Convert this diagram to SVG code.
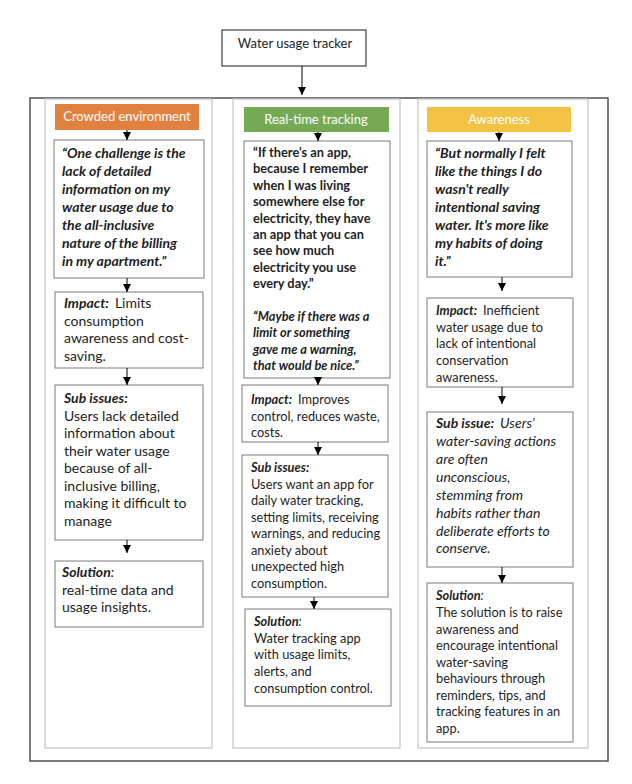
<svg xmlns="http://www.w3.org/2000/svg" width="632" height="784" viewBox="0 0 632 784">
<defs>
<marker id="ah" markerUnits="userSpaceOnUse" markerWidth="8" markerHeight="8" viewBox="0 0 8 8" refX="8" refY="4" orient="auto">
<path d="M0,0 L8,4 L0,8 z" fill="#000"/>
</marker>
<style>
.t{font-family:Lato,'Liberation Sans',sans-serif;fill:#1e1e1e}
.a{font-size:14px}
.b{font-size:12.8px}
.bi{font-weight:bold;font-style:italic}
.bo{font-weight:bold}
.it{font-style:italic}
.box{fill:#fff;stroke:#7a7a7a;stroke-width:1}
.col{fill:none;stroke:#c4c4c4;stroke-width:1.2}
.hd{font-family:Lato,'Liberation Sans',sans-serif;font-size:13px;fill:#fff;text-anchor:middle}
.cn{stroke:#000;stroke-width:1;fill:none;marker-end:url(#ah)}
</style>
</defs>
<rect width="632" height="784" fill="#fff"/>

<g id="title">
<rect x="222" y="30" width="144" height="36" fill="#fff" stroke="#404040" stroke-width="1.2"/>
<text x="295" y="48" class="t" font-size="13" text-anchor="middle">Water usage tracker</text>
</g>

<g id="container">
<rect x="30" y="98" width="578" height="663" fill="none" stroke="#505050" stroke-width="1.5"/>
<rect x="45" y="99" width="167" height="649" class="col"/>
<rect x="233" y="99" width="167" height="649" class="col"/>
<rect x="418" y="99" width="170" height="649" class="col"/>
</g>

<g id="h1"><rect x="55" y="104" width="144" height="26" fill="#E2813F"/><text x="127" y="121" class="hd">Crowded environment</text></g>
<g id="h2"><rect x="244" y="107" width="145" height="25" fill="#76A953"/><text x="316" y="124" class="hd">Real-time tracking</text></g>
<g id="h3"><rect x="427" y="107" width="144" height="25" fill="#F3C243"/><text x="499" y="124" class="hd">Awareness</text></g>

<g id="c1-quote">
<rect x="54" y="140" width="150" height="138" class="box"/>
<text class="t a bi">
<tspan x="62" y="158">“One challenge is the</tspan>
<tspan x="62" y="176">lack of detailed</tspan>
<tspan x="62" y="194">information on my</tspan>
<tspan x="62" y="212">water usage due to</tspan>
<tspan x="62" y="230">the all-inclusive</tspan>
<tspan x="62" y="248">nature of the billing</tspan>
<tspan x="62" y="266">in my apartment.”</tspan>
</text>
</g>

<g id="c1-impact">
<rect x="55" y="292" width="148" height="76" class="box"/>
<text class="t a">
<tspan x="64" y="308"><tspan class="bi">Impact:</tspan><tspan dx="6">Limits</tspan></tspan>
<tspan x="64" y="326">consumption</tspan>
<tspan x="64" y="343">awareness and cost-</tspan>
<tspan x="64" y="361">saving.</tspan>
</text>
</g>

<g id="c1-sub">
<rect x="55" y="385" width="148" height="155" class="box"/>
<text class="t a">
<tspan x="64" y="403" class="bi">Sub issues:</tspan>
<tspan x="64" y="421">Users lack detailed</tspan>
<tspan x="64" y="438">information about</tspan>
<tspan x="64" y="456">their water usage</tspan>
<tspan x="64" y="473">because of all-</tspan>
<tspan x="64" y="491">inclusive billing,</tspan>
<tspan x="64" y="508">making it difficult to</tspan>
<tspan x="64" y="526">manage</tspan>
</text>
</g>

<g id="c1-solution">
<rect x="55" y="561" width="148" height="66" class="box"/>
<text class="t a">
<tspan x="62" y="577"><tspan class="bi">Solution</tspan><tspan class="it">:</tspan></tspan>
<tspan x="62" y="595">real-time data and</tspan>
<tspan x="62" y="612">usage insights.</tspan>
</text>
</g>

<g id="c2-quote">
<rect x="244" y="141" width="146" height="237" class="box"/>
<text class="t b bo">
<tspan x="253" y="157">“If there's an app,</tspan>
<tspan x="253" y="173.4">because I remember</tspan>
<tspan x="253" y="189.8">when I was living</tspan>
<tspan x="253" y="206.2">somewhere else for</tspan>
<tspan x="253" y="222.6">electricity, they have</tspan>
<tspan x="253" y="239">an app that you can</tspan>
<tspan x="253" y="255.4">see how much</tspan>
<tspan x="253" y="271.8">electricity you use</tspan>
<tspan x="253" y="288.2">every day.”</tspan>
</text>
<text class="t b bi">
<tspan x="253" y="321">“Maybe if there was a</tspan>
<tspan x="253" y="337.4">limit or something</tspan>
<tspan x="253" y="353.8">gave me a warning,</tspan>
<tspan x="253" y="370.2">that would be nice.”</tspan>
</text>
</g>

<g id="c2-impact">
<rect x="242" y="385" width="146" height="57" class="box"/>
<text class="t b">
<tspan x="251" y="404"><tspan class="bi">Impact:</tspan><tspan dx="6">Improves</tspan></tspan>
<tspan x="251" y="420.5">control, reduces waste,</tspan>
<tspan x="251" y="437">costs.</tspan>
</text>
</g>

<g id="c2-sub">
<rect x="242" y="455" width="146" height="142" class="box"/>
<text class="t b">
<tspan x="251" y="472" class="bi">Sub issues:</tspan>
<tspan x="251" y="488.5">Users want an app for</tspan>
<tspan x="251" y="505">daily water tracking,</tspan>
<tspan x="251" y="521.5">setting limits, receiving</tspan>
<tspan x="251" y="538">warnings, and reducing</tspan>
<tspan x="251" y="554.5">anxiety about</tspan>
<tspan x="251" y="571">unexpected high</tspan>
<tspan x="251" y="587.5">consumption.</tspan>
</text>
</g>

<g id="c2-solution">
<rect x="245" y="609" width="146" height="97" class="box"/>
<text class="t b">
<tspan x="254" y="626"><tspan class="bi">Solution</tspan><tspan class="it">:</tspan></tspan>
<tspan x="254" y="642.7">Water tracking app</tspan>
<tspan x="254" y="659.4">with usage limits,</tspan>
<tspan x="254" y="676.1">alerts, and</tspan>
<tspan x="254" y="692.8">consumption control.</tspan>
</text>
</g>

<g id="c3-quote">
<rect x="427" y="141" width="145" height="136" class="box"/>
<text class="t a bi">
<tspan x="435" y="158">“But normally I felt</tspan>
<tspan x="435" y="176">like the things I do</tspan>
<tspan x="435" y="194">wasn't really</tspan>
<tspan x="435" y="212">intentional saving</tspan>
<tspan x="435" y="230">water. It's more like</tspan>
<tspan x="435" y="248">my habits of doing</tspan>
<tspan x="435" y="266">it.”</tspan>
</text>
</g>

<g id="c3-impact">
<rect x="427" y="298" width="146" height="89" class="box"/>
<text class="t b">
<tspan x="436" y="315"><tspan class="bi">Impact:</tspan><tspan dx="6">Inefficient</tspan></tspan>
<tspan x="436" y="331.7">water usage due to</tspan>
<tspan x="436" y="348.4">lack of intentional</tspan>
<tspan x="436" y="365.1">conservation</tspan>
<tspan x="436" y="381.8">awareness.</tspan>
</text>
</g>

<g id="c3-sub">
<rect x="427" y="412" width="146" height="155" class="box"/>
<text class="t a it">
<tspan x="436" y="428"><tspan class="bi">Sub issue:</tspan><tspan dx="6">Users’</tspan></tspan>
<tspan x="436" y="446">water-saving actions</tspan>
<tspan x="436" y="464">are often</tspan>
<tspan x="436" y="482">unconscious,</tspan>
<tspan x="436" y="500">stemming from</tspan>
<tspan x="436" y="518">habits rather than</tspan>
<tspan x="436" y="536">deliberate efforts to</tspan>
<tspan x="436" y="553">conserve.</tspan>
</text>
</g>

<g id="c3-solution">
<rect x="427" y="583" width="146" height="159" class="box"/>
<text class="t b">
<tspan x="436" y="600"><tspan class="bi">Solution</tspan><tspan class="it">:</tspan></tspan>
<tspan x="436" y="617">The solution is to raise</tspan>
<tspan x="436" y="633.5">awareness and</tspan>
<tspan x="436" y="650">encourage intentional</tspan>
<tspan x="436" y="666.5">water-saving</tspan>
<tspan x="436" y="683">behaviours through</tspan>
<tspan x="436" y="699.5">reminders, tips, and</tspan>
<tspan x="436" y="716">tracking features in an</tspan>
<tspan x="436" y="732.5">app.</tspan>
</text>
</g>

<g id="connectors">
<line x1="302" y1="66" x2="302" y2="95" class="cn"/>
<line x1="127" y1="130" x2="127" y2="140" class="cn"/>
<line x1="127" y1="278" x2="127" y2="292" class="cn"/>
<line x1="127" y1="368" x2="127" y2="385" class="cn"/>
<line x1="127" y1="540" x2="127" y2="553" class="cn"/>
<line x1="318" y1="132" x2="318" y2="141" class="cn"/>
<line x1="318" y1="378" x2="318" y2="385" class="cn"/>
<line x1="318" y1="442" x2="318" y2="455" class="cn"/>
<line x1="314" y1="597" x2="314" y2="609" class="cn"/>
<line x1="499" y1="132" x2="499" y2="141" class="cn"/>
<line x1="502" y1="277" x2="502" y2="291" class="cn"/>
<line x1="502" y1="387" x2="502" y2="404" class="cn"/>
<line x1="502" y1="567" x2="502" y2="583" class="cn"/>
</g>
</svg>
